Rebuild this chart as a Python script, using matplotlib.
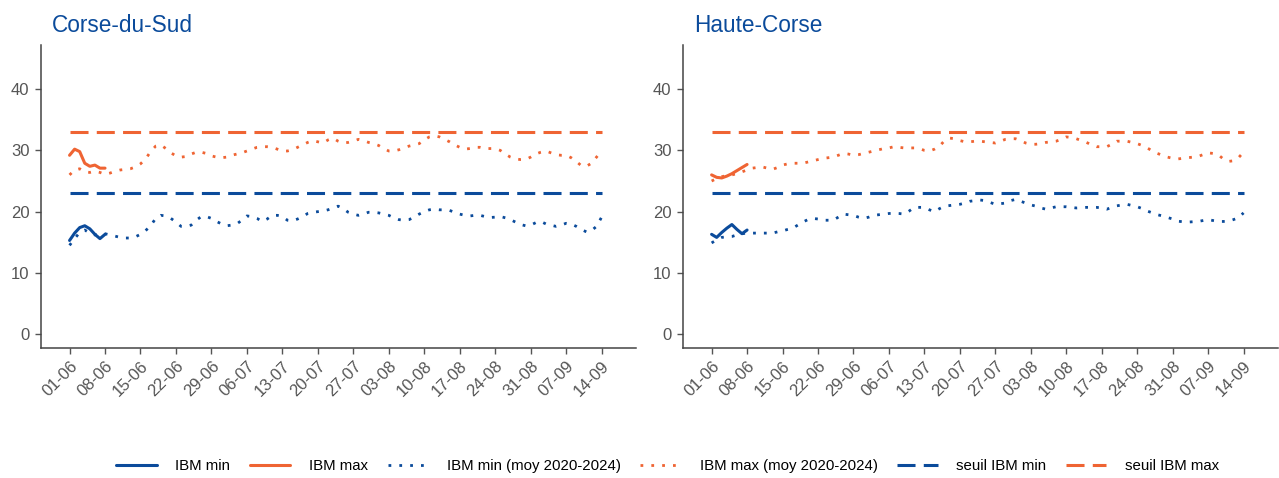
import matplotlib

matplotlib.use("Agg")
import matplotlib.pyplot as plt
import numpy as np
import pandas as pd

plt.rcParams["font.family"] = ["Liberation Sans", "DejaVu Sans"]

BLUE = "#0b4b9b"
ORANGE = "#ef6433"

# jours du 01-06 au 14-09
dates = pd.date_range("2025-06-01", "2025-09-14", freq="D")
tick_dates = pd.date_range("2025-06-01", "2025-09-14", freq="7D")
tick_labels = [d.strftime("%d-%m") for d in tick_dates]

seuil_min = 23
seuil_max = 33

# Corse-du-Sud
cds_min = [15.3, 16.5, 17.4, 17.7, 17.2, 16.3, 15.6, 16.3]
cds_max = [29.2, 30.2, 29.8, 27.9, 27.4, 27.6, 27.1, 27.1]
cds_min_moy = [
    14.5, 15.6, 16.6, 17.0, 16.5, 16.2, 16.4, 16.4, 16.2, 16.0,
    15.8, 15.7, 15.7, 15.9, 16.3, 16.9, 17.7, 18.9, 19.4, 19.3,
    18.9, 18.3, 17.6, 17.6, 17.8, 18.6, 19.2, 19.2, 18.9, 18.4,
    18.0, 17.7, 17.8, 18.0, 18.6, 19.3, 19.2, 18.9, 18.4, 18.8,
    19.4, 19.4, 19.2, 18.6, 18.5, 18.8, 19.2, 19.7, 19.9, 20.0,
    20.1, 20.3, 20.6, 20.9, 20.5, 19.9, 19.6, 19.4, 19.6, 19.9,
    19.9, 19.8, 19.6, 19.4, 19.0, 18.7, 18.6, 18.7, 19.1, 19.6,
    20.0, 20.3, 20.4, 20.3, 20.3, 20.2, 19.9, 19.6, 19.4, 19.3,
    19.4, 19.4, 19.2, 19.05, 19.1, 19.2, 19.0, 18.7, 18.3, 17.9,
    17.7, 17.8, 18.2, 18.4, 18.0, 17.8, 17.6, 17.8, 18.1, 18.0,
    17.6, 17.1, 16.7, 16.9, 17.6, 19.1,
]
cds_max_moy = [
    26.0, 26.8, 27.0, 26.5, 26.4, 26.6, 26.4, 26.1, 26.3, 26.6,
    26.8, 26.9, 27.0, 27.3, 27.8, 28.6, 29.8, 30.7, 30.9, 30.3,
    29.6, 29.1, 28.9, 29.0, 29.4, 29.7, 29.7, 29.5, 29.1, 28.9,
    28.8, 28.9, 29.2, 29.4, 29.6, 29.9, 30.2, 30.5, 30.6, 30.6,
    30.5, 30.2, 29.9, 29.9, 30.1, 30.5, 30.9, 31.3, 31.6, 31.4,
    31.2, 31.7, 32.0, 31.5, 31.2, 31.3, 31.5, 31.8, 31.6, 31.3,
    31.1, 30.8, 30.3, 29.9, 29.9, 30.1, 30.4, 30.7, 30.9, 31.1,
    31.7, 32.2, 32.4, 32.2, 31.8, 31.4, 30.9, 30.5, 30.2, 30.3,
    30.5, 30.5, 30.3, 30.3, 30.3, 30.0, 29.4, 28.9, 28.6, 28.5,
    28.5, 28.9, 29.4, 29.7, 29.9, 29.6, 29.3, 29.2, 29.2, 28.8,
    28.2, 27.5, 27.4, 27.9, 28.9, 29.9,
]

# Haute-Corse
hc_min = [16.3, 15.8, 16.6, 17.3, 17.9, 17.1, 16.4, 17.0]
hc_max = [26.0, 25.6, 25.5, 25.8, 26.2, 26.7, 27.2, 27.7]
hc_min_moy = [
    14.9, 15.4, 15.8, 15.9, 15.95, 16.2, 16.4, 16.5, 16.5, 16.5,
    16.5, 16.5, 16.5, 16.7, 16.85, 17.1, 17.3, 17.8, 18.3, 18.7,
    18.9, 18.8, 18.6, 18.6, 18.6, 19.1, 19.6, 19.5, 19.4, 19.1,
    18.9, 19.1, 19.4, 19.5, 19.6, 19.7, 19.75, 19.7, 19.6, 20.1,
    20.7, 20.7, 20.7, 20.3, 20.0, 20.5, 20.9, 21.0, 21.1, 21.2,
    21.4, 21.7, 21.8, 21.9, 21.8, 21.5, 21.2, 21.3, 21.4, 21.8,
    22.0, 21.7, 21.4, 21.1, 20.9, 20.6, 20.4, 20.6, 20.8, 20.8,
    20.8, 20.7, 20.6, 20.65, 20.7, 20.7, 20.7, 20.6, 20.4, 20.7,
    20.95, 21.1, 21.2, 21.0, 20.8, 20.5, 20.1, 19.8, 19.5, 19.3,
    19.05, 18.8, 18.45, 18.35, 18.3, 18.35, 18.4, 18.55, 18.7, 18.55,
    18.4, 18.4, 18.45, 18.7, 19.0, 19.8,
]
hc_max_moy = [
    25.0, 25.4, 25.7, 25.9, 26.0, 26.2, 26.5, 26.8, 27.1, 27.2,
    27.3, 27.1, 26.9, 27.2, 27.6, 27.8, 27.9, 27.9, 27.9, 28.1,
    28.3, 28.5, 28.7, 28.8, 28.9, 29.2, 29.5, 29.4, 29.2, 29.3,
    29.5, 29.7, 29.9, 30.1, 30.3, 30.4, 30.6, 30.5, 30.4, 30.4,
    30.4, 30.3, 30.0, 29.9, 30.2, 30.7, 31.6, 32.0, 31.9, 31.6,
    31.4, 31.4, 31.5, 31.5, 31.4, 31.3, 31.2, 31.5, 31.8, 31.9,
    31.9, 31.6, 31.2, 31.0, 31.0, 31.1, 31.3, 31.4, 31.5, 31.8,
    32.2, 32.1, 31.9, 31.6, 31.3, 30.9, 30.6, 30.6, 30.6, 31.0,
    31.5, 31.5, 31.5, 31.3, 31.1, 30.8, 30.4, 29.9, 29.5, 29.2,
    28.9, 28.7, 28.6, 28.7, 28.8, 28.9, 29.0, 29.3, 29.6, 29.5,
    29.3, 28.6, 28.2, 28.3, 28.8, 29.7,
]

panels = [
    ("Corse-du-Sud", cds_min, cds_max, cds_min_moy, cds_max_moy),
    ("Haute-Corse", hc_min, hc_max, hc_min_moy, hc_max_moy),
]

fig = plt.figure(figsize=(12.79, 4.78), dpi=100)
positions = [
    [0.0318, 0.2726, 0.4655, 0.6333],
    [0.5338, 0.2726, 0.4654, 0.6333],
]

handles = None
for pos, (nom, v_min, v_max, v_min_moy, v_max_moy) in zip(positions, panels):
    ax = fig.add_axes(pos)
    n = len(v_min)
    h1, = ax.plot(dates[:n], v_min, color=BLUE, lw=2.2, solid_capstyle="round")
    h2, = ax.plot(dates[:n], v_max, color=ORANGE, lw=2.2, solid_capstyle="round")
    h3, = ax.plot(dates, v_min_moy, color=BLUE, lw=2.0, dashes=(1, 2.9))
    h4, = ax.plot(dates, v_max_moy, color=ORANGE, lw=2.0, dashes=(1, 2.9))
    h5, = ax.plot(dates, [seuil_min] * len(dates), color=BLUE, lw=2.2,
                  dashes=(5.9, 2.7))
    h6, = ax.plot(dates, [seuil_max] * len(dates), color=ORANGE, lw=2.2,
                  dashes=(5.9, 2.7))
    handles = [h1, h2, h3, h4, h5, h6]

    ax.set_xlim(dates[0] - pd.Timedelta(days=5.7),
                dates[0] + pd.Timedelta(days=111.8))
    ax.set_ylim(-2.2, 47.2)
    ax.set_yticks([0, 10, 20, 30, 40])
    ax.set_xticks(tick_dates)
    ax.set_xticklabels(tick_labels, rotation=45, ha="right",
                       rotation_mode="anchor")

    for side in ("top", "right"):
        ax.spines[side].set_visible(False)
    for side in ("left", "bottom"):
        ax.spines[side].set_color("#444444")
        ax.spines[side].set_linewidth(1.1)
    ax.tick_params(axis="both", colors="#555555", labelsize=12,
                   length=4.5, width=1)
    ax.tick_params(axis="x", pad=3)

    ax.annotate(nom, xy=(0, 1), xycoords="axes fraction",
                xytext=(8, 6), textcoords="offset points",
                fontsize=16.3, color=BLUE, ha="left", va="bottom")

labels = ["IBM min", "IBM max", "IBM min (moy 2020-2024)",
          "IBM max (moy 2020-2024)", "seuil IBM min", "seuil IBM max"]
fig.legend(handles, labels, loc="center", bbox_to_anchor=(0.522, 0.025),
           ncol=6, frameon=False, fontsize=10.8, handlelength=2.7,
           handletextpad=1.25, columnspacing=1.3)

fig.savefig("out.png", dpi=100)
